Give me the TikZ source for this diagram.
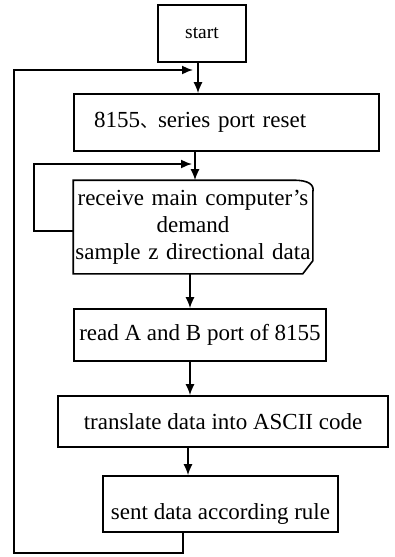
\documentclass[tikz,border=0pt]{standalone}
\usepackage{fontspec}
\setmainfont{Liberation Serif}
\newfontfamily\cjk{Noto Sans CJK SC}
\usepackage{tikz}
\usetikzlibrary{arrows.meta,calc}
\tikzstyle{blk}=[rectangle, draw, line width=1.6pt, inner sep=0pt,% plain box
font=\fontsize{23}{27}\selectfont]
\tikzstyle{flw}=[-{Latex[length=11pt,width=9pt]}, line width=1.6pt]

\begin{document}
\begin{tikzpicture}[x=1pt,y=-1pt]
\useasboundingbox (0,0) rectangle (394,557);
\node[blk, minimum width=88pt, minimum height=57pt, font=\fontsize{19.5}{22}\selectfont] (start) at (202,33.5) {start};
\node[blk, minimum width=305pt, minimum height=57pt, text width=265pt, inner xsep=20pt, align=left] (reset) at (226.5,122.5) {8155{\cjk\fontsize{18}{22}\selectfont 、}series port reset};
\node[blk, draw=none, minimum width=238pt, minimum height=92pt, text width=236pt, align=center] (recv) at (193,227) {receive main computer’s\\demand\\sample z directional data};
\node[blk, minimum width=252pt, minimum height=52pt] (read) at (200,335) {read A and B port of 8155};
\node[blk, minimum width=330pt, minimum height=51pt] (trans) at (223,421.5) {translate data into ASCII code};
\node[blk, minimum width=235pt, minimum height=56pt, text depth=0pt, text height=30pt] (sent) at (220.5,504) {sent data according rule};
% outline of the receive box
\draw[line width=1.6pt] (recv.south west) -- (recv.north west) -- ([xshift=-19pt]recv.north east)
  .. controls ([xshift=-5pt]recv.north east) and ([xshift=2pt,yshift=-4pt]recv.north east) .. ([yshift=-12pt]recv.north east)
  -- ([yshift=13pt]recv.south east) -- ([xshift=-10pt]recv.south east) -- cycle;
\coordinate (ocorner) at (14,553);
\coordinate (otop) at (14,70);
\coordinate (ojoin) at (193,70);
\coordinate (itop) at (34,164);
\coordinate (ijoin) at (192,164);
\draw[flw] ([xshift=-4pt]start.south) -- ([xshift=-4pt]start.south |- reset.north);
\draw[flw] ([xshift=2pt]recv.north |- reset.south) -- ([xshift=2pt]recv.north);
\draw[flw] ([xshift=-3pt]recv.south) -- ([xshift=-3pt]recv.south |- read.north);
\draw[flw] ([xshift=-10pt]read.south) -- ([xshift=-10pt]read.south |- trans.north);
\draw[flw] ([xshift=-35pt]trans.south) -- ([xshift=-35pt]trans.south |- sent.north);
% loops back
\draw[flw] ([xshift=-37.5pt]sent.south) |- (ocorner) -- (otop) -- (ojoin);
\draw[flw] ([yshift=-4pt]recv.west) -| (itop) -- (ijoin);
\end{tikzpicture}
\end{document}
